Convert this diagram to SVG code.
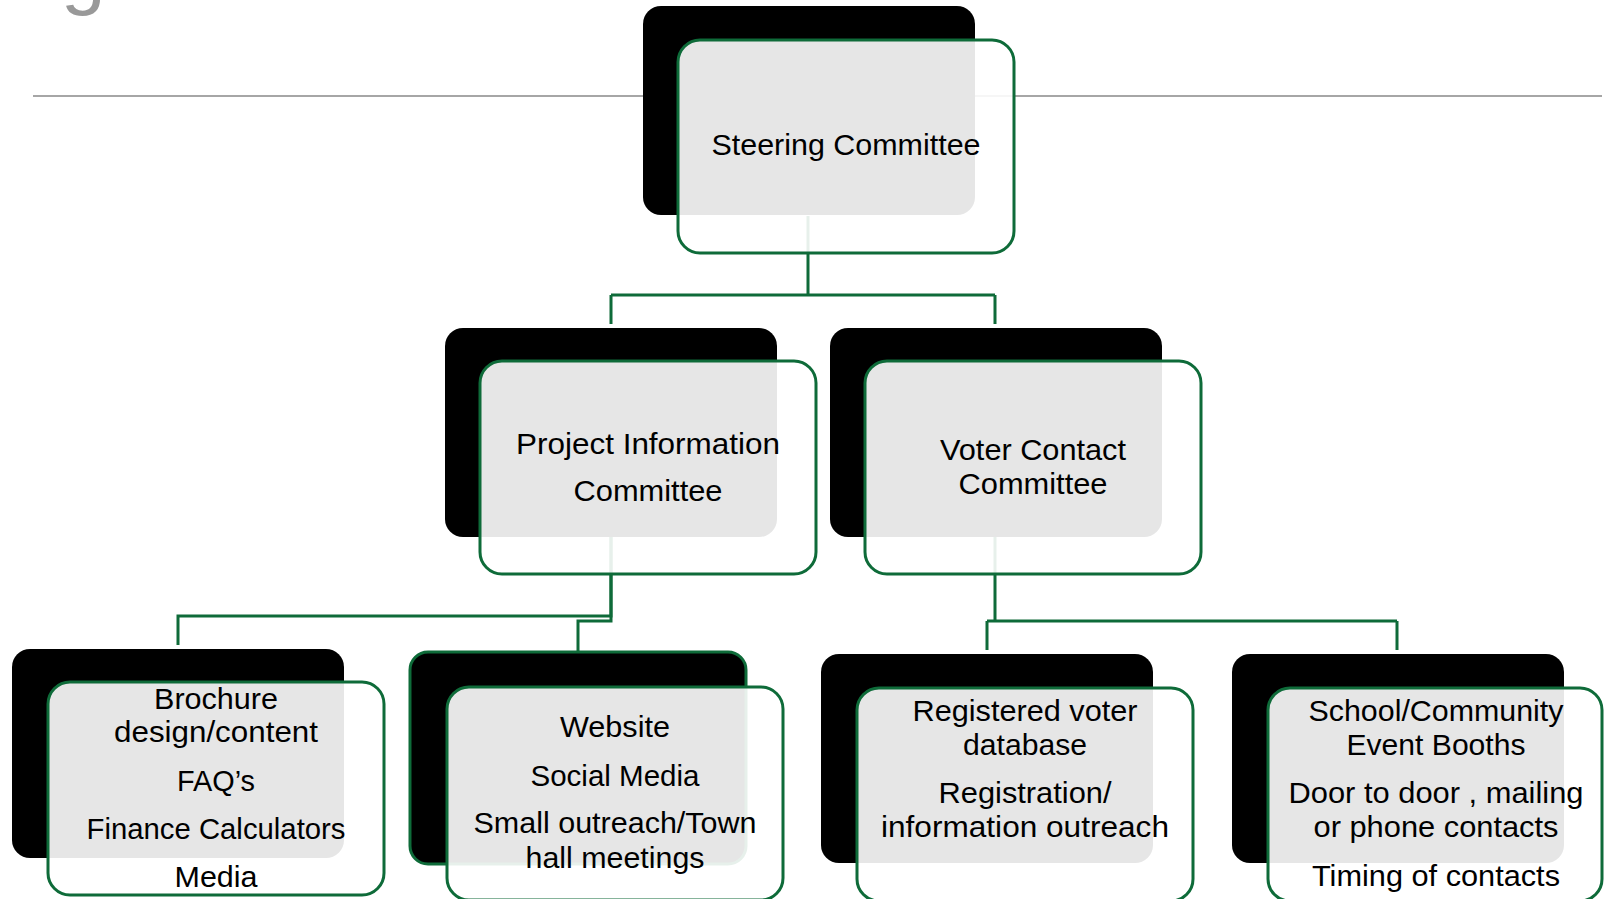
<svg xmlns="http://www.w3.org/2000/svg" width="1604" height="899" viewBox="0 0 1604 899">
<defs>
<style>
.bk{fill:#000;}
.ol{fill:#fff;fill-opacity:0.9;stroke:#0e6b39;stroke-width:3;}
.t{font-family:"Liberation Sans",Arial,sans-serif;font-size:30px;fill:#000;text-anchor:middle;}
.c{fill:none;stroke:#0e6b39;stroke-width:3;}
</style>
</defs>
<rect width="1604" height="899" fill="#fff"/>
<text x="61" y="-1" font-family="Liberation Sans,Arial,sans-serif" font-size="80" fill="#999">g</text>
<line x1="33" y1="96" x2="1602" y2="96" stroke="#a6a6a6" stroke-width="2"/>
<g id="connectors">
<path class="c" d="M808,216 V295 M611,295 H995 M611,295 V324 M995,295 V324"/>
<path class="c" d="M611,537 V616 H178 V645"/>
<path class="c" d="M611,537 V621 H578 V651"/>
<path class="c" d="M995,537 V621 M987,621 H1397 M987,621 V650 M1397,621 V650"/>
</g>
<g id="steering">
<rect class="bk" x="643" y="6" width="332" height="209" rx="18"/>
<rect class="ol" x="678" y="40" width="336" height="213" rx="22"/>
<text class="t" x="846" y="155" textLength="269" lengthAdjust="spacingAndGlyphs">Steering Committee</text>
</g>
<g id="project">
<rect class="bk" x="445" y="328" width="332" height="209" rx="18"/>
<rect class="ol" x="480" y="361" width="336" height="213" rx="22"/>
<text class="t" x="648" y="454" textLength="264" lengthAdjust="spacingAndGlyphs">Project Information</text>
<text class="t" x="648" y="501" textLength="149" lengthAdjust="spacingAndGlyphs">Committee</text>
</g>
<g id="voter">
<rect class="bk" x="830" y="328" width="332" height="209" rx="18"/>
<rect class="ol" x="865" y="361" width="336" height="213" rx="22"/>
<text class="t" x="1033" y="460" textLength="186" lengthAdjust="spacingAndGlyphs">Voter Contact</text>
<text class="t" x="1033" y="494" textLength="149" lengthAdjust="spacingAndGlyphs">Committee</text>
</g>
<g id="brochure">
<rect class="bk" x="12" y="649" width="332" height="209" rx="18"/>
<rect class="ol" x="48" y="682" width="336" height="213" rx="22"/>
<text class="t" x="216" y="709" textLength="124" lengthAdjust="spacingAndGlyphs">Brochure</text>
<text class="t" x="216" y="742" textLength="204" lengthAdjust="spacingAndGlyphs">design/content</text>
<text class="t" x="216" y="791" textLength="78" lengthAdjust="spacingAndGlyphs">FAQ’s</text>
<text class="t" x="216" y="839" textLength="259" lengthAdjust="spacingAndGlyphs">Finance Calculators</text>
<text class="t" x="216" y="887" textLength="83" lengthAdjust="spacingAndGlyphs">Media</text>
</g>
<g id="website">
<rect class="bk" x="410" y="652" width="336" height="212" rx="18" stroke="#0e6b39" stroke-width="3"/>
<rect class="ol" x="447" y="687" width="336" height="213" rx="22"/>
<text class="t" x="615" y="737" textLength="110" lengthAdjust="spacingAndGlyphs">Website</text>
<text class="t" x="615" y="786" textLength="169" lengthAdjust="spacingAndGlyphs">Social Media</text>
<text class="t" x="615" y="833" textLength="283" lengthAdjust="spacingAndGlyphs">Small outreach/Town</text>
<text class="t" x="615" y="868" textLength="179" lengthAdjust="spacingAndGlyphs">hall meetings</text>
</g>
<g id="registered">
<rect class="bk" x="821" y="654" width="332" height="209" rx="18"/>
<rect class="ol" x="857" y="688" width="336" height="213" rx="22"/>
<text class="t" x="1025" y="721" textLength="225" lengthAdjust="spacingAndGlyphs">Registered voter</text>
<text class="t" x="1025" y="755" textLength="124" lengthAdjust="spacingAndGlyphs">database</text>
<text class="t" x="1025" y="803" textLength="173" lengthAdjust="spacingAndGlyphs">Registration/</text>
<text class="t" x="1025" y="837" textLength="288" lengthAdjust="spacingAndGlyphs">information outreach</text>
</g>
<g id="school">
<rect class="bk" x="1232" y="654" width="332" height="209" rx="18"/>
<rect class="ol" x="1268" y="688" width="334" height="213" rx="22"/>
<text class="t" x="1436" y="721" textLength="255" lengthAdjust="spacingAndGlyphs">School/Community</text>
<text class="t" x="1436" y="755" textLength="179" lengthAdjust="spacingAndGlyphs">Event Booths</text>
<text class="t" x="1436" y="803" textLength="295" lengthAdjust="spacingAndGlyphs">Door to door , mailing</text>
<text class="t" x="1436" y="837" textLength="245" lengthAdjust="spacingAndGlyphs">or phone contacts</text>
<text class="t" x="1436" y="886" textLength="248" lengthAdjust="spacingAndGlyphs">Timing of contacts</text>
</g>
</svg>
